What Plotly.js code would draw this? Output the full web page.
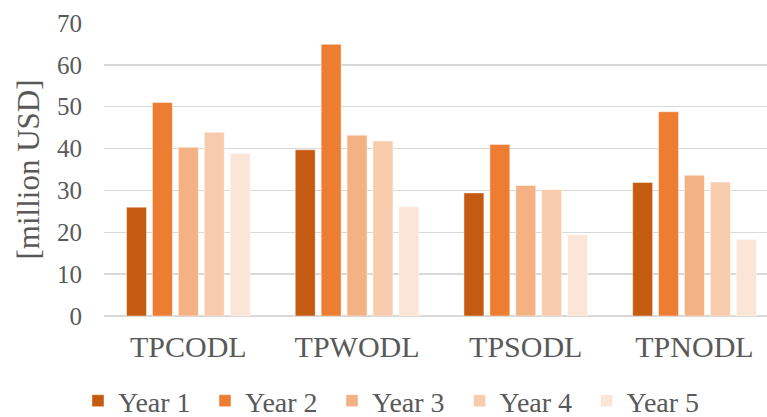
<!DOCTYPE html>
<html>
<head>
<meta charset="utf-8">
<script src="https://cdn.plot.ly/plotly-3.0.1.min.js"></script>
<style>html,body{margin:0;padding:0;background:#fff;}#chart{width:767px;height:417px;}</style>
</head>
<body>
<div id="chart"></div>
<script>
var categories = ["TPCODL", "TPWODL", "TPSODL", "TPNODL"];
var seriesNames = ["Year 1", "Year 2", "Year 3", "Year 4", "Year 5"];
var year1 = [26.0, 39.7, 29.4, 31.9];
var year2 = [51.0, 64.9, 41.0, 48.8];
var year3 = [40.3, 43.2, 31.2, 33.6];
var year4 = [43.9, 41.8, 30.2, 32.0];
var year5 = [38.8, 26.1, 19.4, 18.3];
var yTicks = [0, 10, 20, 30, 40, 50, 60, 70];

var seriesValues = [year1, year2, year3, year4, year5];
var colors = ["#C55A11", "#ED7D31", "#F4B183", "#F8CBAD", "#FBE5D6"];
var fontFamily = "Liberation Serif";
var textColor = "#595959";
var legendIds = ["legend", "legend2", "legend3", "legend4", "legend5"];
var legendX = [78, 205, 332, 459.5, 586.5];

var traces = seriesNames.map(function (name, i) {
  return {
    type: "bar",
    name: name,
    x: categories,
    y: seriesValues[i],
    legend: legendIds[i],
    marker: { color: colors[i], line: { color: "rgba(255,255,255,0.6)", width: 0.75 } },
    hoverinfo: "x+y+name"
  };
});

var layout = {
  width: 767,
  height: 417,
  margin: { l: 104, r: 0, t: 23, b: 101 },
  paper_bgcolor: "#ffffff",
  plot_bgcolor: "#ffffff",
  barmode: "group",
  bargap: 0.232,
  bargroupgap: 0.23,
  font: { family: fontFamily, color: textColor },
  xaxis: {
    type: "category",
    range: [-0.5, 3.43],
    showgrid: false,
    zeroline: false,
    showline: false,
    ticks: "",
    ticklabelstandoff: 10,
    tickfont: { size: 30, color: textColor, family: fontFamily },
    automargin: false,
    fixedrange: true
  },
  yaxis: {
    range: [0, 70],
    tickvals: yTicks,
    ticktext: yTicks.map(String),
    showgrid: true,
    gridcolor: "#D9D9D9",
    gridwidth: 1.5,
    zeroline: true,
    zerolinecolor: "#D9D9D9",
    zerolinewidth: 1.5,
    showline: false,
    ticks: "",
    ticklabelstandoff: 21,
    automargin: true,
    tickfont: { size: 25, color: textColor, family: fontFamily },
    title: { text: "[million USD]", standoff: 8, font: { size: 31, color: textColor, family: fontFamily } },
    fixedrange: true
  },
  showlegend: true
};

legendIds.forEach(function (id, i) {
  layout[id] = {
    orientation: "h",
    xref: "container",
    yref: "container",
    x: legendX[i] / 767,
    xanchor: "left",
    y: 1 - 401 / 417,
    yanchor: "middle",
    bgcolor: "rgba(0,0,0,0)",
    font: { size: 28, color: textColor, family: fontFamily },
    itemwidth: 30
  };
});

Plotly.newPlot("chart", traces, layout, { displayModeBar: false, staticPlot: true });
</script>
</body>
</html>
